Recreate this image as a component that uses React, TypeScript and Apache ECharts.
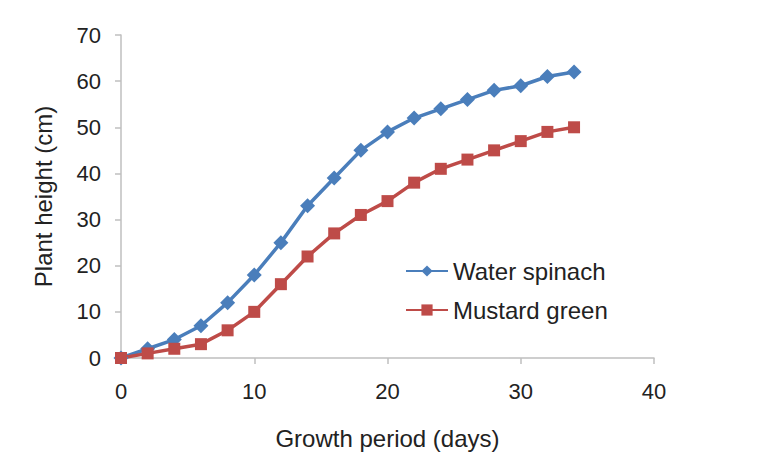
import React, { useEffect, useRef } from "react";
import * as echarts from "echarts";

const days = [0, 2, 4, 6, 8, 10, 12, 14, 16, 18, 20, 22, 24, 26, 28, 30, 32, 34];
const waterSpinach = [0, 2, 4, 7, 12, 18, 25, 33, 39, 45, 49, 52, 54, 56, 58, 59, 61, 62];
const mustardGreen = [0, 1, 2, 3, 6, 10, 16, 22, 27, 31, 34, 38, 41, 43, 45, 47, 49, 50];

const FONT = "'Liberation Sans', Arial, sans-serif";

export default function App() {
  const ref = useRef<HTMLDivElement>(null);
  useEffect(() => {
    if (!ref.current) return;
    const chart = echarts.init(ref.current, null, { renderer: "svg" });
    const axisLine = { show: true, lineStyle: { color: "#bfbfbf", width: 1.5 } };
    chart.setOption({
      animation: false,
      textStyle: { fontFamily: FONT },
      grid: { left: 121, right: 114, top: 35, bottom: 109, containLabel: false },
      legend: {
        orient: "vertical",
        left: 400,
        top: 254,
        itemWidth: 42,
        itemHeight: 14,
        itemGap: 15,
        textStyle: { fontSize: 24, color: "#222", fontFamily: FONT },
        data: ["Water spinach", "Mustard green"],
      },
      xAxis: {
        type: "value",
        min: 0,
        max: 40,
        interval: 10,
        name: "Growth period (days)",
        nameLocation: "middle",
        nameGap: 68,
        nameTextStyle: { fontSize: 24, color: "#222", fontFamily: FONT },
        axisLine,
        axisTick: { show: true, length: 6, lineStyle: { color: "#bfbfbf", width: 1.5 } },
        axisLabel: { fontSize: 22, color: "#222", margin: 22, fontFamily: FONT },
        splitLine: { show: false },
      },
      yAxis: {
        type: "value",
        min: 0,
        max: 70,
        interval: 10,
        name: "Plant height (cm)",
        nameLocation: "middle",
        nameGap: 66,
        nameTextStyle: { fontSize: 24, color: "#222", fontFamily: FONT },
        axisLine,
        axisTick: { show: true, length: 6, lineStyle: { color: "#bfbfbf", width: 1.5 } },
        axisLabel: { fontSize: 22, color: "#222", margin: 20, fontFamily: FONT },
        splitLine: { show: false },
      },
      series: [
        {
          name: "Water spinach",
          type: "line",
          data: days.map((d, i) => [d, waterSpinach[i]]),
          symbol: "diamond",
          symbolSize: 15,
          lineStyle: { color: "#4a7ebb", width: 3.5 },
          itemStyle: { color: "#4a7ebb" },
        },
        {
          name: "Mustard green",
          type: "line",
          data: days.map((d, i) => [d, mustardGreen[i]]),
          symbol: "rect",
          symbolSize: 12,
          lineStyle: { color: "#be4b48", width: 3.5 },
          itemStyle: { color: "#be4b48" },
        },
      ],
    });
    return () => chart.dispose();
  }, []);
  return <div ref={ref} style={{ width: 768, height: 467, position: "absolute", left: 0, top: 0 }} />;
}
